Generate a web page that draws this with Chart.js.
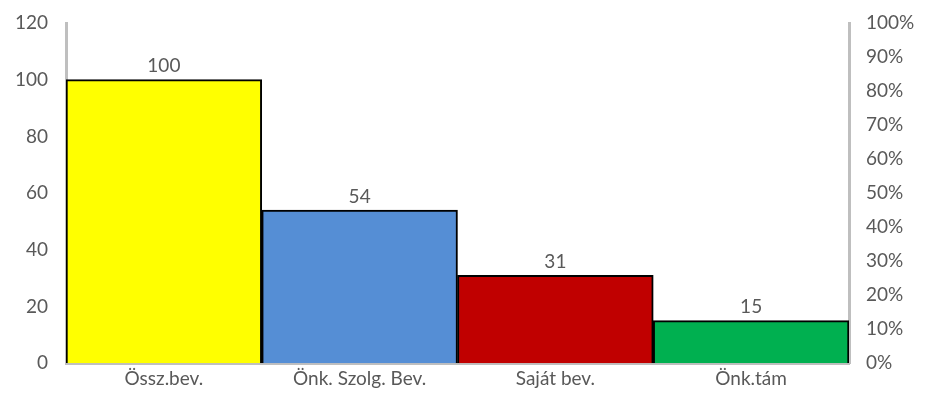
<!DOCTYPE html>
<html lang="hu">
<head>
<meta charset="utf-8">
<title>Bevételek</title>
<script src="https://cdn.jsdelivr.net/npm/chart.js@4.4.1/dist/chart.umd.min.js"></script>
<style>
  html, body { margin: 0; padding: 0; background: #fff; }
  #wrap { width: 925px; height: 407px; }
</style>
</head>
<body>
<div id="wrap"><canvas id="chart"></canvas></div>
<script>
// data
var categories = ["Össz.bev.", "Önk. Szolg. Bev.", "Saját bev.", "Önk.tám"];
var values = [100, 54, 31, 15];
var barColors = ["#FFFF00", "#558ED5", "#C00000", "#00B050"];

var tickColor = "#595959";
var axisGray = "#BFBFBF";

// value labels above each bar
var valueLabels = {
  id: "valueLabels",
  afterDatasetsDraw: function(chart) {
    var ctx = chart.ctx;
    var meta = chart.getDatasetMeta(0);
    ctx.save();
    ctx.font = "19px Lato, 'Open Sans', sans-serif";
    ctx.fillStyle = tickColor;
    ctx.textAlign = "center";
    ctx.textBaseline = "bottom";
    meta.data.forEach(function(bar, i) {
      ctx.fillText(values[i], bar.x, bar.y - 4);
    });
    ctx.restore();
  }
};

new Chart(document.getElementById("chart"), {
  type: "bar",
  data: {
    labels: categories,
    datasets: [{
      data: values,
      backgroundColor: barColors,
      borderColor: "#000",
      borderWidth: 2,
      borderSkipped: "bottom",
      categoryPercentage: 1,
      barPercentage: 1,
      yAxisID: "y"
    }]
  },
  options: {
    responsive: true,
    maintainAspectRatio: false,
    animation: false,
    layout: { padding: { top: 23, right: 0, left: 0, bottom: 13 } },
    plugins: {
      legend: { display: false },
      tooltip: { enabled: false }
    },
    scales: {
      x: {
        grid: { display: false, drawTicks: false },
        border: { color: axisGray, width: 3 },
        ticks: { color: tickColor, font: { family: "Lato, 'Open Sans', sans-serif", size: 19 }, padding: 4 }
      },
      y: {
        position: "left",
        min: 0, max: 120,
        ticks: { stepSize: 20, color: tickColor, font: { family: "Lato, 'Open Sans', sans-serif", size: 19 }, padding: 18 },
        grid: { display: false, drawTicks: false },
        border: { color: axisGray, width: 3 },
        afterFit: function(s) { s.width = 66; s.paddingTop = 0; }
      },
      y2: {
        position: "right",
        min: 0, max: 1,
        ticks: {
          stepSize: 0.1, color: tickColor,
          font: { family: "Lato, 'Open Sans', sans-serif", size: 19 }, padding: 17,
          callback: function(v) { return Math.round(v * 100) + "%"; }
        },
        grid: { display: false, drawTicks: false },
        border: { color: axisGray, width: 3 },
        afterFit: function(s) { s.width = 76; s.paddingTop = 0; }
      }
    }
  },
  plugins: [valueLabels]
});
</script>
</body>
</html>
